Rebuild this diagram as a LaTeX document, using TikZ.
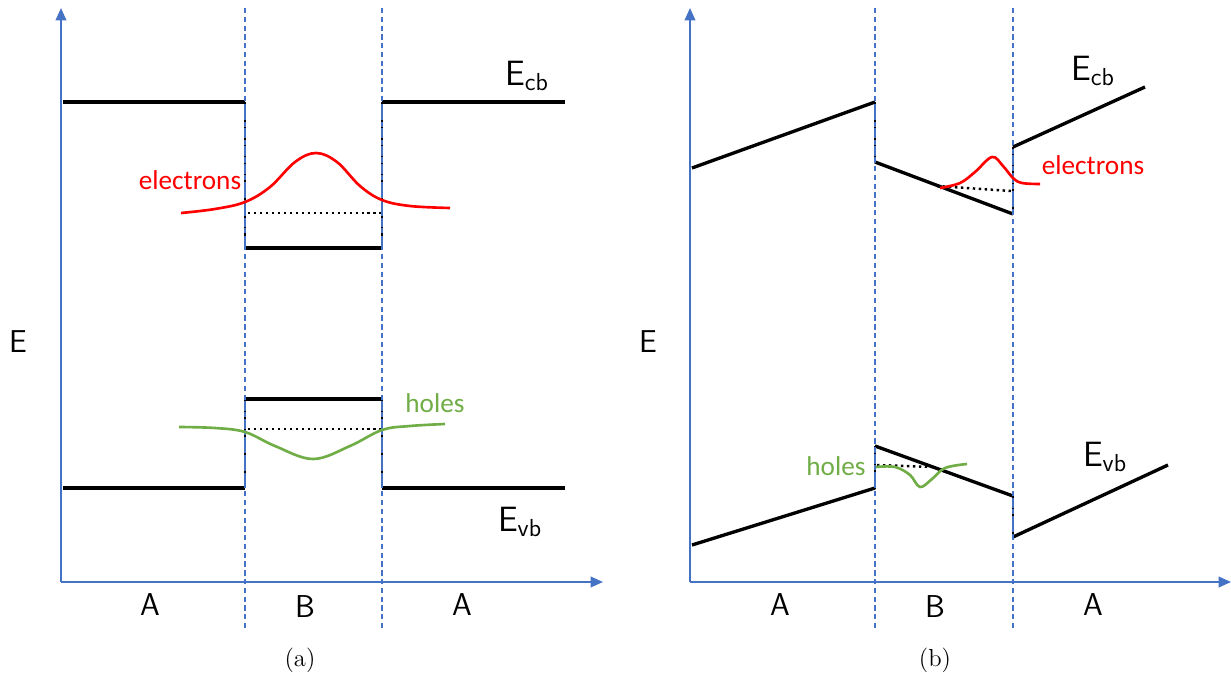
\documentclass[tikz,border=0pt]{standalone}
\usepackage{fontspec}
\newfontfamily\calib{Carlito}
\usetikzlibrary{arrows.meta, positioning, calc}
\definecolor{axisblue}{RGB}{68,114,196}
\definecolor{holegreen}{RGB}{112,173,71}

\begin{document}
\begin{tikzpicture}[
        x=0.02cm, y=-0.02cm,
        axis/.style={-{Triangle[length=7pt, width=6pt]}, line width=1.1pt, axisblue},
        iface/.style={axisblue, dashed, line width=0.8pt, dash pattern=on 3pt off 2pt},
        band/.style={black, line width=1.9pt},
        stepl/.style={axisblue, line width=1.5pt},
        level/.style={black, dotted, line width=1.4pt},
        elec/.style={red, line width=1.5pt},
        hole/.style={holegreen, line width=1.5pt},
        lbl/.style={font=\sffamily\fontsize{18}{20}\selectfont},
        blbl/.style={font=\sffamily\fontsize{20}{22}\selectfont},
        wlbl/.style={font=\calib\fontsize{15.5}{17}\selectfont},
        captxt/.style={font=\rmfamily\fontsize{14}{16}\selectfont},
    ]
    \useasboundingbox (0,0) rectangle (1231,676);

    % ---------------- panel (a) ----------------
    \coordinate (oa) at (61,582);
    \coordinate (ya) at (61,8);
    \coordinate (xa) at (603,582);
    \draw[axis] (oa) -- (ya);
    \draw[axis] (oa) -- (xa);

    % conduction band
    \draw[band] (63,102) -- (245,102);
    \draw[band] (245,248) -- (382,248);
    \draw[band] (382,102) -- (565,102);
    % valence band
    \draw[band] (63,488) -- (245,488);
    \draw[band] (245,399) -- (382,399);
    \draw[band] (382,488) -- (565,488);
    % steps at the interfaces
    \foreach \xs in {245,382} {
        \draw[stepl] (\xs,102) -- (\xs,248);
        \draw[level] (\xs,102) -- (\xs,248);
        \draw[stepl] (\xs,399) -- (\xs,488);
        \draw[level] (\xs,399) -- (\xs,488);
    }
    \draw[iface] (245,8) -- (245,628);
    \draw[iface] (382,8) -- (382,628);

    % bound states
    \draw[level] (248,213) -- (381,213);
    \draw[level] (248,429) -- (381,429);
    \draw[elec] plot[smooth, tension=0.6] coordinates {(181,213) (215,209) (245,202) (270,187) (295,162) (316,153) (337,162) (360,186) (382,200) (410,206) (450,208)};
    \draw[hole] plot[smooth, tension=0.6] coordinates {(179,427) (215,428) (245,432) (275,446) (313,459) (350,446) (382,430) (410,426) (445,424)};

    \node[wlbl, red] (elecA) at (190,180) {electrons};
    \node[wlbl, holegreen] (holeA) at (435,403) {holes};
    \node[blbl] (ecbA) at (527,76) {E\textsubscript{cb}};
    \node[blbl] (evbA) at (520,522) {E\textsubscript{vb}};
    \node[lbl] (eA) at (18,342) {E};
    \node[lbl] (a1) at (150,605) {A};
    \node[lbl] (b1) at (305,607) {B};
    \node[lbl] (a2) at (462,605) {A};
    \node[captxt] (capA) at (300,660) {(a)};

    % ---------------- panel (b) ----------------
    \coordinate (ob) at (690,582);
    \coordinate (yb) at (690,8);
    \coordinate (xb) at (1231,582);
    \draw[axis] (ob) -- (yb);
    \draw[axis] (ob) -- (xb);

    % conduction band
    \draw[band] (692,168) -- (875,102);
    \draw[band] (875,162) -- (1013,214);
    \draw[band] (1013,147) -- (1145,87);
    % valence band
    \draw[band] (692,545) -- (875,488);
    \draw[band] (875,446) -- (1013,496);
    \draw[band] (1013,537) -- (1168,465);
    % steps at the interfaces
    \draw[stepl] (875,102) -- (875,162);
    \draw[level] (875,102) -- (875,162);
    \draw[stepl] (1013,147) -- (1013,214);
    \draw[level] (1013,147) -- (1013,214);
    \draw[stepl] (875,446) -- (875,488);
    \draw[level] (875,446) -- (875,488);
    \draw[stepl] (1013,496) -- (1013,537);
    \draw[level] (1013,496) -- (1013,537);
    \draw[iface] (875,8) -- (875,628);
    \draw[iface] (1013,8) -- (1013,628);

    % bound states
    \draw[level] (937,186) -- (1011,191);
    \draw[level] (877,465) -- (933,467);
    \draw[elec] plot[smooth, tension=0.6] coordinates {(940,188) (960,183) (975,172) (992,157) (1003,166) (1013,178) (1022,183) (1040,184)};
    \draw[hole] plot[smooth, tension=0.6] coordinates {(876,467) (895,467) (910,475) (920,487) (932,479) (945,468) (967,464)};

    \node[wlbl, red] (elecB) at (1093,165) {electrons};
    \node[wlbl, holegreen] (holeB) at (836,466) {holes};
    \node[blbl] (ecbB) at (1093,71) {E\textsubscript{cb}};
    \node[blbl] (evbB) at (1105,457) {E\textsubscript{vb}};
    \node[lbl] (eB) at (648,342) {E};
    \node[lbl] (a3) at (780,605) {A};
    \node[lbl] (b2) at (935,607) {B};
    \node[lbl] (a4) at (1093,605) {A};
    \node[captxt] (capB) at (935,660) {(b)};
\end{tikzpicture}
\end{document}
